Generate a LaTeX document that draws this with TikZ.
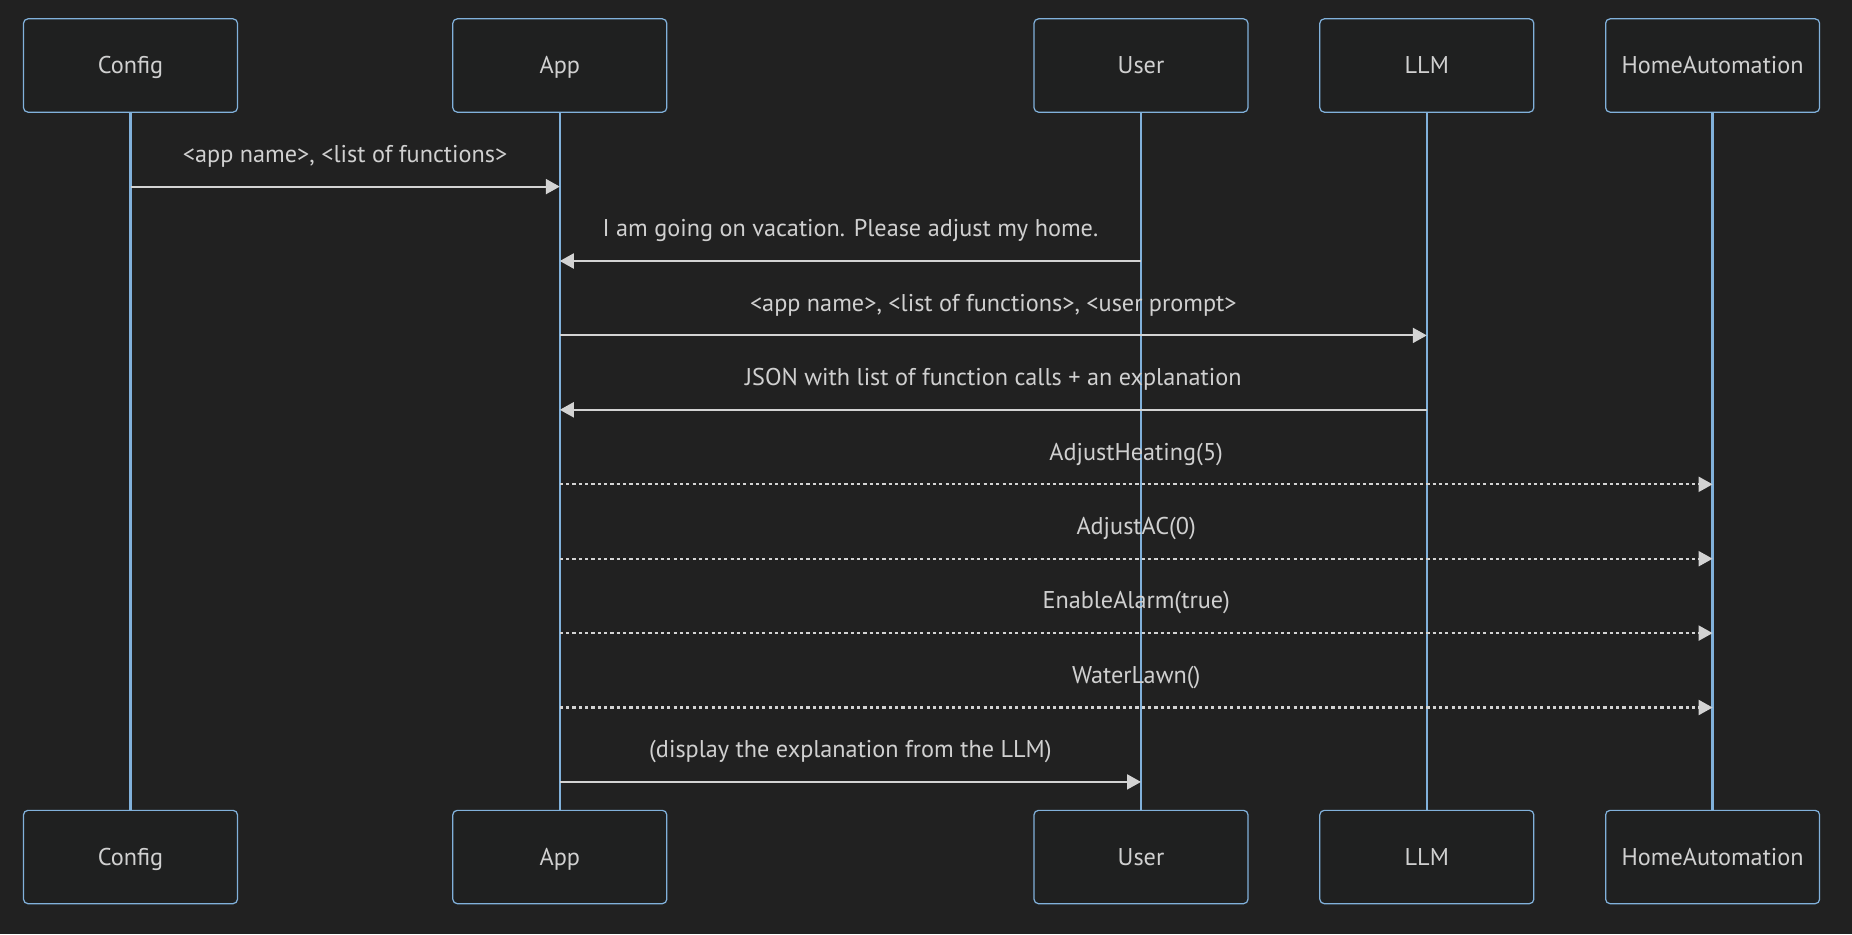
\documentclass[tikz,border=0pt]{standalone}
\usepackage{fontspec}
\setmainfont{PT Sans}
\usepackage{tikz}
\usetikzlibrary{arrows.meta}
\definecolor{bgcol}{HTML}{212121}
\definecolor{boxfill}{HTML}{1F2020}
\definecolor{boxline}{HTML}{81B1DB}
\definecolor{msgcol}{HTML}{D3D3D3}
\definecolor{txtcol}{HTML}{D0D0D0}
\tikzstyle{actor} = [rectangle, rounded corners=2.5pt, minimum width=4.28cm, minimum height=1.866cm, text centered, text height=2.3ex, text depth=0.45ex, draw=boxline, fill=boxfill, line width=0.7pt, text=txtcol, font=\fontsize{13.8pt}{16pt}\selectfont]
\tikzstyle{lifeline} = [draw=boxline, line width=1.3pt]
\tikzstyle{msg} = [draw=msgcol, line width=1.2pt, -{Triangle[length=0.28cm, width=0.3cm, fill=msgcol]}]
\tikzstyle{callmsg} = [msg, dash pattern=on 1.8pt off 1.8pt]
\tikzstyle{msglabel} = [midway, yshift=0.6cm, text height=1.75ex, text depth=0.45ex, text=txtcol, font=\fontsize{13.8pt}{16pt}\selectfont]

\begin{document}
\begin{tikzpicture}[x=0.02cm, y=-0.02cm]
\fill [bgcol] (0,0) rectangle (1852,934);
\useasboundingbox (0,0) rectangle (1852,934);

% participants, top row
\node (cfg) [actor] at (130.5,65.5) {Config};
\node (app) [actor] at (559.8,65.5) {App};
\node (usr) [actor] at (1141,65.5) {User};
\node (llm) [actor] at (1426.8,65.5) {LLM};
\node (home) [actor] at (1712.6,65.5) {HomeAutomation};

% participants, bottom row
\node (cfgB) [actor] at (130.5,857) {Config};
\node (appB) [actor] at (559.8,857) {App};
\node (usrB) [actor] at (1141,857) {User};
\node (llmB) [actor] at (1426.8,857) {LLM};
\node (homeB) [actor] at (1712.6,857) {HomeAutomation};

% lifelines
\draw [lifeline] (cfg) -- (cfgB);
\draw [lifeline] (app) -- (appB);
\draw [lifeline] (usr) -- (usrB);
\draw [lifeline] (llm) -- (llmB);
\draw [lifeline] (home) -- (homeB);

% message end points
\coordinate (m1a) at (cfg |- 0,186.6);
\coordinate (m1b) at (app |- 0,186.6);
\coordinate (m2a) at (usr |- 0,261);
\coordinate (m2b) at (app |- 0,261);
\coordinate (m3a) at (app |- 0,335.4);
\coordinate (m3b) at (llm |- 0,335.4);
\coordinate (m4a) at (llm |- 0,409.8);
\coordinate (m4b) at (app |- 0,409.8);
\coordinate (m5a) at (app |- 0,484.3);
\coordinate (m5b) at (home |- 0,484.3);
\coordinate (m6a) at (app |- 0,558.7);
\coordinate (m6b) at (home |- 0,558.7);
\coordinate (m7a) at (app |- 0,633.1);
\coordinate (m7b) at (home |- 0,633.1);
\coordinate (m8a) at (app |- 0,707.5);
\coordinate (m8b) at (home |- 0,707.5);
\coordinate (m9a) at (app |- 0,781.9);
\coordinate (m9b) at (usr |- 0,781.9);

% messages
\draw [msg] (m1a) -- node[msglabel] {<app name>, <list of functions>} (m1b);
\draw [msg] (m2a) -- node[msglabel] {I am going on vacation. Please adjust my home.} (m2b);
\draw [msg] (m3a) -- node[msglabel] {<app name>, <list of functions>, <user prompt>} (m3b);
\draw [msg] (m4a) -- node[msglabel] {JSON with list of function calls + an explanation} (m4b);
\draw [callmsg] (m5a) -- node[msglabel] {AdjustHeating(5)} (m5b);
\draw [callmsg] (m6a) -- node[msglabel] {AdjustAC(0)} (m6b);
\draw [callmsg] (m7a) -- node[msglabel] {EnableAlarm(true)} (m7b);
\draw [callmsg] (m8a) -- node[msglabel] {WaterLawn()} (m8b);
\draw [msg] (m9a) -- node[msglabel] {(display the explanation from the LLM)} (m9b);
\end{tikzpicture}
\end{document}
